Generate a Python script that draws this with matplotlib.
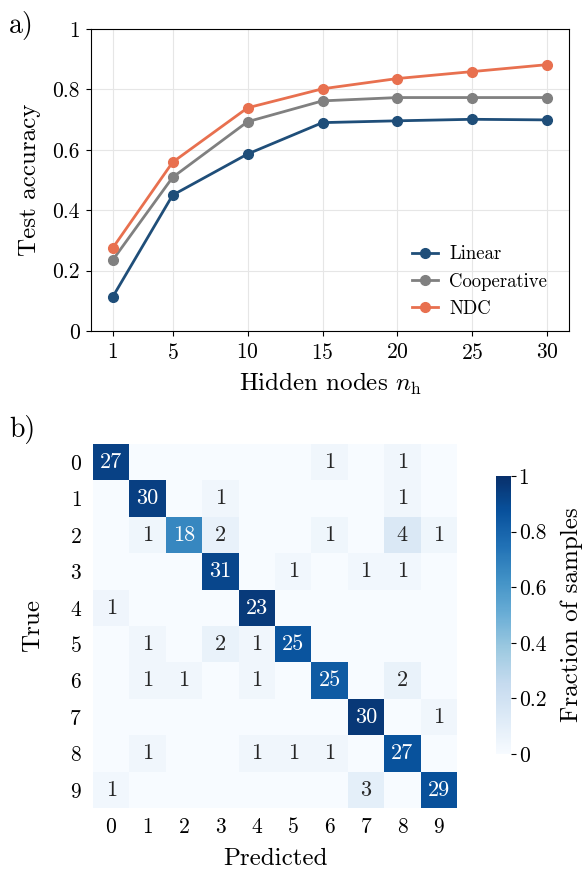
import numpy as np
import matplotlib
matplotlib.use("Agg")
import matplotlib.pyplot as plt
from matplotlib.ticker import FuncFormatter

# -----------------------------
# Data
# -----------------------------
hidden_nodes = [1, 5, 10, 15, 20, 25, 30]
acc_linear = [0.113, 0.450, 0.586, 0.690, 0.696, 0.701, 0.699]
acc_coop = [0.235, 0.509, 0.693, 0.762, 0.773, 0.773, 0.773]
acc_ndc = [0.275, 0.559, 0.739, 0.802, 0.836, 0.859, 0.882]

classes = list(range(10))
conf_counts = np.array([
    [27, 0, 0, 0, 0, 0, 1, 0, 1, 0],
    [0, 30, 0, 1, 0, 0, 0, 0, 1, 0],
    [0, 1, 18, 2, 0, 0, 1, 0, 4, 1],
    [0, 0, 0, 31, 0, 1, 0, 1, 1, 0],
    [1, 0, 0, 0, 23, 0, 0, 0, 0, 0],
    [0, 1, 0, 2, 1, 25, 0, 0, 0, 0],
    [0, 1, 1, 0, 1, 0, 25, 0, 2, 0],
    [0, 0, 0, 0, 0, 0, 0, 30, 0, 1],
    [0, 1, 0, 0, 1, 1, 1, 0, 27, 0],
    [1, 0, 0, 0, 0, 0, 0, 3, 0, 29],
])

# -----------------------------
# Style
# -----------------------------
plt.rcParams["font.family"] = "serif"
plt.rcParams["font.serif"] = ["cmr10"]
plt.rcParams["mathtext.fontset"] = "cm"
plt.rcParams["axes.formatter.use_mathtext"] = True
plt.rcParams["axes.unicode_minus"] = False

W, H = 585, 871
fig = plt.figure(figsize=(W / 100, H / 100), dpi=100)

TICK_FS = 15.5
LABEL_FS = 18


def px_axes(left, top, right, bottom):
    return fig.add_axes([left / W, 1 - bottom / H, (right - left) / W, (bottom - top) / H])


fmt_g = FuncFormatter(lambda v, p: f"{v:g}")

# ===========================================================
# a) Test accuracy vs hidden nodes
# ===========================================================
ax1 = px_axes(91, 29, 569, 331)
ax1.plot(hidden_nodes, acc_linear, "-o", color="#1f4e79", lw=2, ms=7, label="Linear")
ax1.plot(hidden_nodes, acc_coop, "-o", color="#808080", lw=2, ms=7, label="Cooperative")
ax1.plot(hidden_nodes, acc_ndc, "-o", color="#e8704f", lw=2, ms=7, label="NDC")

ax1.set_ylim(0, 1)
ax1.set_xticks(hidden_nodes)
ax1.set_yticks([0, 0.2, 0.4, 0.6, 0.8, 1.0])
ax1.yaxis.set_major_formatter(fmt_g)
ax1.tick_params(labelsize=TICK_FS, length=3.5, width=0.8)
ax1.tick_params(axis="x", pad=5)
ax1.tick_params(axis="y", pad=4.5)
ax1.grid(True, color="#e6e6e6", lw=0.8)
ax1.set_axisbelow(True)
ax1.set_xlabel(r"Hidden nodes $n_\mathrm{h}$", fontsize=LABEL_FS, labelpad=6)
ax1.set_ylabel("Test accuracy", fontsize=LABEL_FS, labelpad=8)
ax1.legend(loc="lower right", bbox_to_anchor=(1 - 9 / 478, 0), frameon=False,
           fontsize=13.5, handlelength=1.4, handletextpad=0.6, borderaxespad=0.3)
fig.text(9 / W, 1 - 26 / H, "a)", fontsize=20, va="center", ha="left")

# ===========================================================
# b) Confusion matrix
# ===========================================================
frac = conf_counts / conf_counts.sum(axis=1, keepdims=True)

ax2 = px_axes(93, 444, 457, 808)
im = ax2.imshow(frac, cmap="Blues", vmin=0, vmax=1, aspect="auto")
for i in classes:
    for j in classes:
        c = conf_counts[i, j]
        if c > 0:
            ax2.text(j, i, str(c), ha="center", va="center", fontsize=16,
                     color="white" if frac[i, j] > 0.5 else "#262626")
ax2.set_xticks(classes)
ax2.set_yticks(classes)
ax2.tick_params(length=0, labelsize=TICK_FS)
ax2.tick_params(axis="x", pad=6.5)
ax2.tick_params(axis="y", pad=8)
for s in ax2.spines.values():
    s.set_visible(False)
ax2.set_xlabel("Predicted", fontsize=LABEL_FS, labelpad=8)
ax2.set_ylabel("True", fontsize=LABEL_FS, labelpad=18)
fig.text(9 / W, 1 - 429 / H, "b)", fontsize=20, va="center", ha="left")

cax = px_axes(496, 476, 511, 754)
cb = fig.colorbar(im, cax=cax)
cb.outline.set_visible(False)
cb.set_ticks([0, 0.2, 0.4, 0.6, 0.8, 1.0])
cb.ax.yaxis.set_major_formatter(fmt_g)
cb.ax.tick_params(labelsize=TICK_FS, length=3.5, width=0.8, pad=2)
cb.set_label("Fraction of samples", fontsize=LABEL_FS, labelpad=10)

fig.savefig("out.png", dpi=100)
